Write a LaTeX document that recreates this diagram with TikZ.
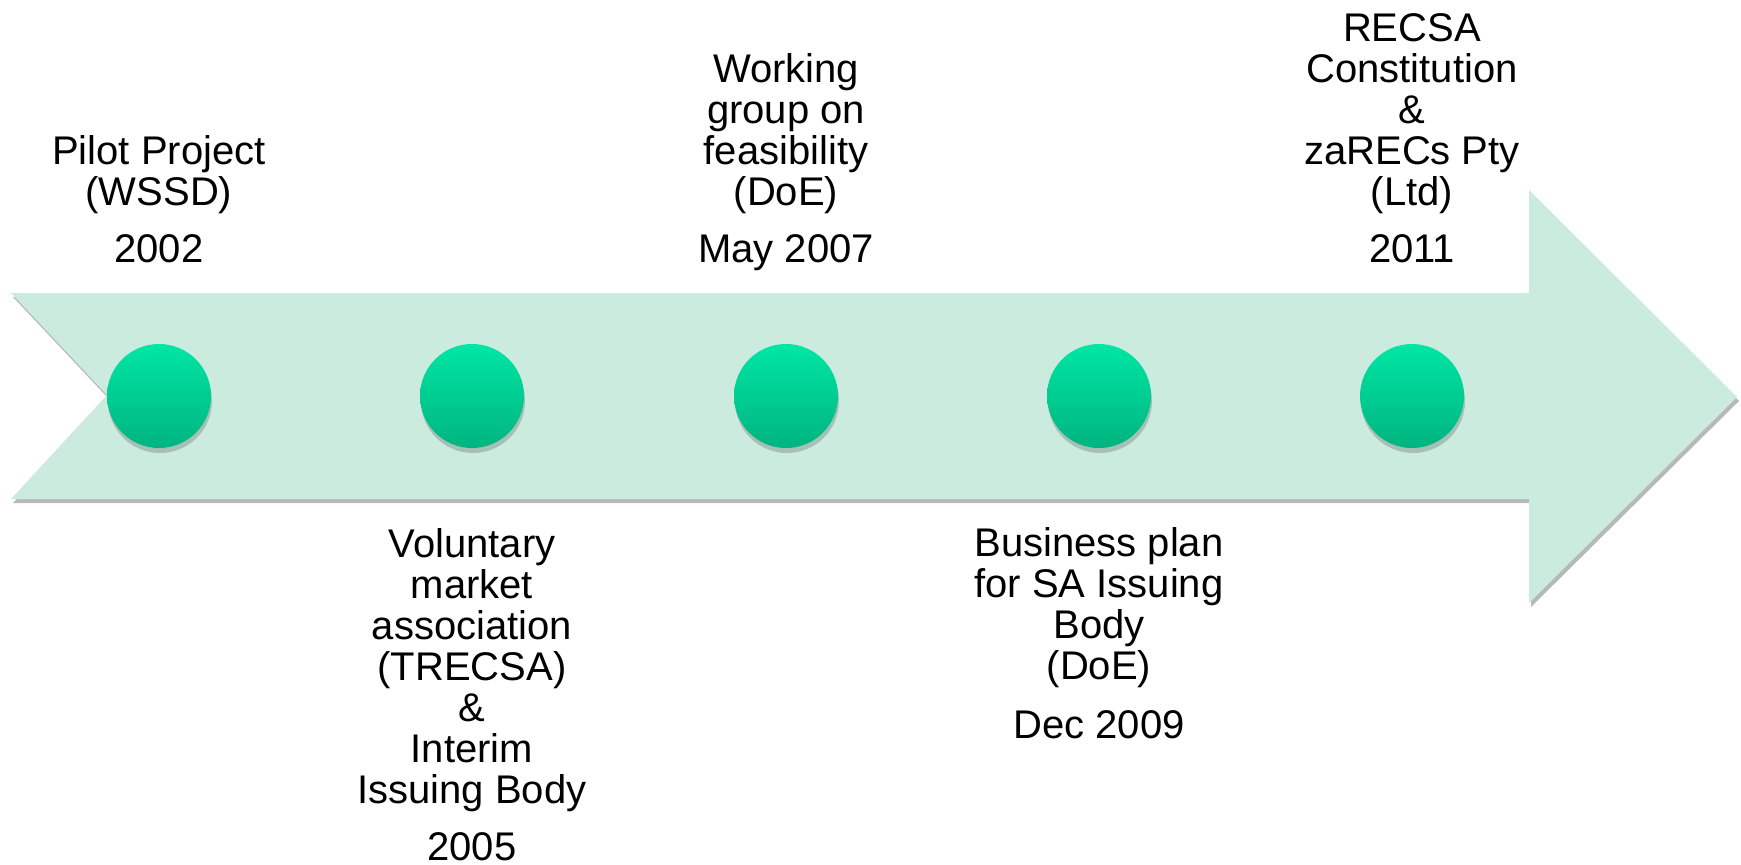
\documentclass[tikz,border=0pt]{standalone}
\usepackage{fontspec}
\setmainfont{Liberation Sans}
\definecolor{mint}{RGB}{203,235,222}
\definecolor{dottop}{RGB}{0,230,164}
\definecolor{dotbot}{RGB}{0,180,128}

\begin{document}
\begin{tikzpicture}[x=1pt,y=-1pt,
		lbl/.style={align=center,inner sep=0pt,font=\fontsize{40}{41}\selectfont},
		yr/.style={anchor=base,inner sep=0pt,font=\fontsize{40}{41}\selectfont},
		dot/.style={circle,minimum size=104pt,inner sep=0pt,top color=dottop,bottom color=dotbot}]
			\useasboundingbox (0,0) rectangle (1741,865);

			% big arrow with its shadow
			\fill[black,opacity=.28,shift={(2,4)}] (11,293) -- (1529,293) -- (1529,190) -- (1737,397) -- (1529,603) -- (1529,499) -- (11,499) -- (107,395) -- cycle;
			\fill[mint] (11,293) -- (1529,293) -- (1529,190) -- (1737,397) -- (1529,603) -- (1529,499) -- (11,499) -- (107,395) -- cycle;

			\foreach \x [count=\i] in {159,472,786,1099,1412} {
				\fill[black,opacity=.18] (\x+1,401) circle (52);
				\node[dot] (dot\i) at (\x,396) {};
			};

			\node[lbl,anchor=south] (lbl1) at (159,213.5) {Pilot Project\\(WSSD)};
			\node[yr] (yr1) at (159,262) {2002};

			\node[lbl,anchor=north] (lbl2) at (472,528) {Voluntary\\market\\association\\(TRECSA)\\\&\\Interim\\Issuing Body};
			\node[yr] (yr2) at (472,860) {2005};

			\node[lbl,anchor=south] (lbl3) at (786,213.5) {Working\\group on\\feasibility\\(DoE)};
			\node[yr] (yr3) at (786,262) {May 2007};

			\node[lbl,anchor=north] (lbl4) at (1099,527.5) {Business plan\\for SA Issuing\\Body\\(DoE)};
			\node[yr] (yr4) at (1099,738) {Dec 2009};

			\node[lbl,anchor=south] (lbl5) at (1412,213.5) {RECSA\\Constitution\\\&\\zaRECs Pty\\(Ltd)};
			\node[yr] (yr5) at (1412,262) {2011};
		\end{tikzpicture}
\end{document}
